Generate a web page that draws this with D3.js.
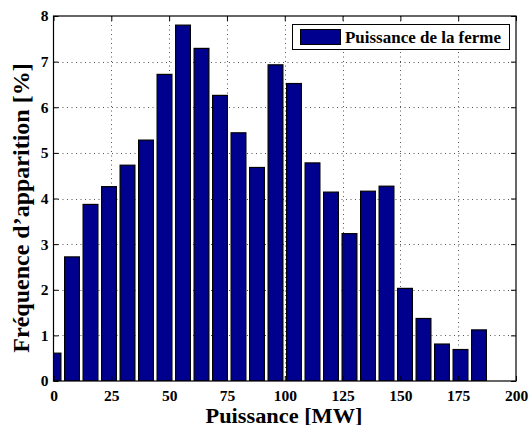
<!DOCTYPE html>
<html><head><meta charset="utf-8">
<script src="https://cdn.jsdelivr.net/npm/d3@7"></script>
<style>body{margin:0;background:#fff}svg{display:block}</style>
</head><body><svg id="c" width="531" height="425"></svg>
<script>
const centers = [0,8,16,24,32,40,48,56,64,72,80,88,96,104,112,120,128,136,144,152,160,168,176,184];
const values = [0.61,2.72,3.87,4.26,4.73,5.28,6.72,7.80,7.29,6.26,5.44,4.68,6.93,6.52,4.78,4.14,3.23,4.16,4.27,2.03,1.37,0.81,0.69,1.12];
const xTicks = [0,25,50,75,100,125,150,175,200];
const yTicks = [0,1,2,3,4,5,6,7,8];
const seriesName = "Puissance de la ferme";
const xTitle = "Puissance [MW]";
const yTitle = "Fréquence d’apparition [%]";

const FONT="'Liberation Serif', 'Times New Roman', Times, serif";
const L=53.5,R=516,T=16,B=381;
const svg=d3.select("#c");
const x=d3.scaleLinear().domain([0,200]).range([L,R]);
const y=d3.scaleLinear().domain([0,8]).range([B,T]);
const barW=6.4;

svg.append("defs").append("clipPath").attr("id","clip").append("rect").attr("x",L).attr("y",T).attr("width",R-L).attr("height",B-T);

const g=svg.append("g");
g.selectAll("line.gx").data(xTicks.slice(1,-1)).join("line").attr("x1",d=>Math.round(x(d))+0.5).attr("x2",d=>Math.round(x(d))+0.5).attr("y1",T).attr("y2",B)
 .attr("stroke","#555").attr("stroke-width",1).attr("stroke-dasharray","1,3.5");
g.selectAll("line.gy").data(yTicks.slice(1,-1)).join("line").attr("y1",d=>Math.round(y(d))+0.5).attr("y2",d=>Math.round(y(d))+0.5).attr("x1",L).attr("x2",R)
 .attr("stroke","#555").attr("stroke-width",1).attr("stroke-dasharray","1,3.5");

svg.append("g").attr("clip-path","url(#clip)").selectAll("rect").data(values).join("rect")
 .attr("x",(d,i)=>x(centers[i]-barW/2)).attr("width",(d,i)=>x(centers[i]+barW/2)-x(centers[i]-barW/2))
 .attr("y",d=>y(d)).attr("height",d=>y(0)-y(d))
 .attr("fill","#00008f").attr("stroke","#000").attr("stroke-width",1.2);

const xa=d3.axisBottom(x).tickValues(xTicks).tickSize(-5).tickPadding(9).tickFormat(d3.format("d"));
const ya=d3.axisLeft(y).tickValues(yTicks).tickSize(-5).tickPadding(5).tickFormat(d3.format("d"));
const gx=svg.append("g").attr("transform",`translate(0,${B})`).call(xa);
const gy=svg.append("g").attr("transform",`translate(${L},0)`).call(ya);
svg.append("g").attr("transform",`translate(0,${T})`).call(d3.axisTop(x).tickValues(xTicks).tickSize(-5).tickFormat(""));
svg.append("g").attr("transform",`translate(${R},0)`).call(d3.axisRight(y).tickValues(yTicks).tickSize(-5).tickFormat(""));
svg.selectAll(".domain").remove();
svg.selectAll(".tick line").attr("stroke","#000");
[gx,gy].forEach(a=>{a.attr("font-family",null).attr("font-size",null);
 a.selectAll("text").style("font-family",FONT).style("font-weight","bold").style("font-size","15.5px").attr("fill","#000");});
svg.append("rect").attr("x",L).attr("y",T).attr("width",R-L).attr("height",B-T).attr("fill","none").attr("stroke","#000").attr("stroke-width",1.2);

function txt(sel){return sel.style("font-family",FONT).style("font-weight","bold").attr("fill","#000");}
txt(svg.append("text").attr("x",284).attr("y",422.5).attr("text-anchor","middle").style("font-size","20px")
 .attr("textLength",157).attr("lengthAdjust","spacingAndGlyphs").text(xTitle));
txt(svg.append("text").attr("transform",`translate(29,${208}) rotate(-90)`).attr("text-anchor","middle").style("font-size","24px").text(yTitle));

const lg=svg.append("g");
lg.append("rect").attr("x",292.5).attr("y",24.5).attr("width",217).attr("height",25).attr("fill","#fff").attr("stroke","#000").attr("stroke-width",1);
lg.append("rect").attr("x",300.5).attr("y",29.5).attr("width",40).attr("height",15).attr("fill","#00008f").attr("stroke","#000").attr("stroke-width",1);
txt(lg.append("text").attr("x",345).attr("y",42.5).style("font-size","17px").attr("textLength",156).attr("lengthAdjust","spacingAndGlyphs").text(seriesName));
</script></body></html>
